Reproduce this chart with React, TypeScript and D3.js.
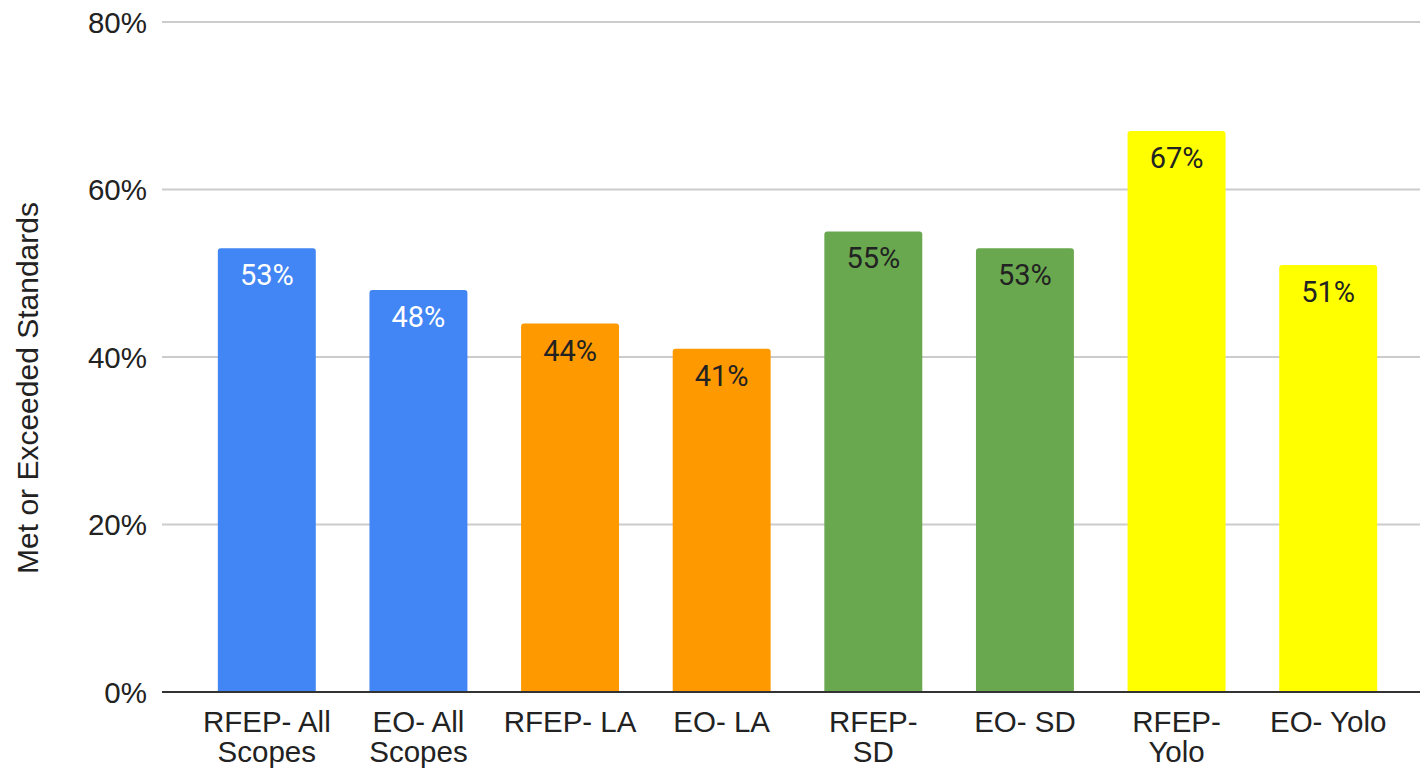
import React from "react";
import * as d3 from "d3";

const categories: string[][] = [
  ["RFEP- All", "Scopes"],
  ["EO- All", "Scopes"],
  ["RFEP- LA"],
  ["EO- LA"],
  ["RFEP-", "SD"],
  ["EO- SD"],
  ["RFEP-", "Yolo"],
  ["EO- Yolo"],
];
const values: number[] = [53, 48, 44, 41, 55, 53, 67, 51];
const barColors: string[] = ["#4285F4", "#4285F4", "#FF9900", "#FF9900", "#6AA84F", "#6AA84F", "#FFFF00", "#FFFF00"];
const labelColors: string[] = ["#ffffff", "#ffffff", "#222222", "#222222", "#222222", "#222222", "#222222", "#222222"];
const yTicks: number[] = [0, 20, 40, 60, 80];
const yTitle = "Met or Exceeded Standards";

const W = 1420;
const H = 768;
const gridX0 = 162;
const gridX1 = 1420;

export default function App() {
  const y = d3.scaleLinear().domain([0, 80]).range([692, 22]);
  const keys = categories.map((c) => c.join(" "));
  const x = d3
    .scaleBand<string>()
    .domain(keys)
    .range([191, 1404])
    .paddingInner(0.354)
    .paddingOuter(0.177);
  const bw = x.bandwidth();
  const r = 3;

  const barPath = (x0: number, y0: number, w: number, yb: number) => {
    const p = d3.path();
    p.moveTo(x0, yb);
    p.lineTo(x0, y0 + r);
    p.quadraticCurveTo(x0, y0, x0 + r, y0);
    p.lineTo(x0 + w - r, y0);
    p.quadraticCurveTo(x0 + w, y0, x0 + w, y0 + r);
    p.lineTo(x0 + w, yb);
    p.closePath();
    return p.toString();
  };

  return (
    <svg
      width={W}
      height={H}
      style={{ position: "absolute", left: 0, top: 0, background: "#fff" }}
    >
      {yTicks
        .filter((t) => t > 0)
        .map((t) => (
          <line key={t} x1={gridX0} x2={gridX1} y1={y(t)} y2={y(t)} stroke="#cccccc" strokeWidth={2} />
        ))}
      {yTicks.map((t) => (
        <text
          key={"l" + t}
          x={147}
          y={y(t)}
          dy="0.36em"
          textAnchor="end"
          fontFamily="'Liberation Sans', Arial, sans-serif"
          fontSize={29.5}
          fill="#222"
        >
          {t}%
        </text>
      ))}
      {values.map((v, i) => {
        const x0 = x(keys[i]) as number;
        return (
          <g key={i}>
            <path d={barPath(x0, y(v), bw, y(0))} fill={barColors[i]} />
            <text
              x={x0 + bw / 2}
              y={y(v) + 37}
              textAnchor="middle"
              fontFamily="Roboto, sans-serif"
              fontSize={29}
              fill={labelColors[i]}
            >
              {v}%
            </text>
          </g>
        );
      })}
      <line x1={gridX0} x2={gridX1} y1={y(0)} y2={y(0)} stroke="#333333" strokeWidth={2} />
      {categories.map((lines, i) => {
        const cx = (x(keys[i]) as number) + bw / 2;
        return (
          <text
            key={"c" + i}
            x={cx}
            textAnchor="middle"
            fontFamily="'Liberation Sans', Arial, sans-serif"
            fontSize={29.5}
            fill="#222"
          >
            {lines.map((ln, j) => (
              <tspan key={j} x={cx} y={732 + j * 30}>
                {ln}
              </tspan>
            ))}
          </text>
        );
      })}
      <text
        transform={`translate(38, 388) rotate(-90)`}
        textAnchor="middle"
        fontFamily="'Liberation Sans', Arial, sans-serif"
        fontSize={30}
        fill="#222"
      >
        {yTitle}
      </text>
    </svg>
  );
}
